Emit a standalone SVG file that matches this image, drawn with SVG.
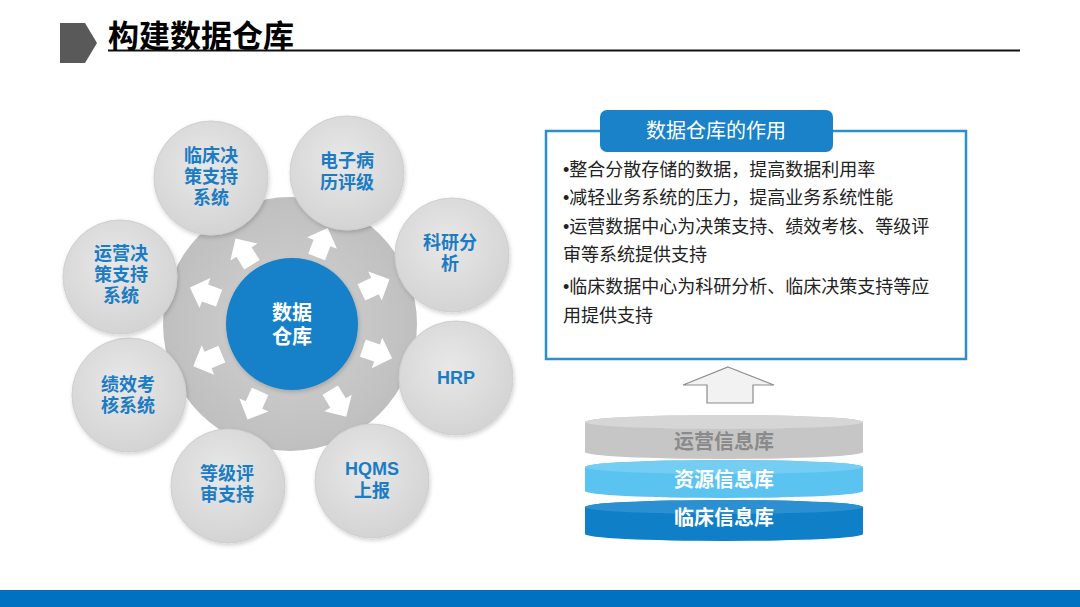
<svg xmlns="http://www.w3.org/2000/svg" width="1080" height="607" viewBox="0 0 1080 607">
<style>
.cjk{font-family:"Noto Sans CJK SC","Liberation Sans",sans-serif}
.hub-t{font-family:"Liberation Sans","Noto Sans CJK SC",sans-serif;font-weight:700;font-size:20px;fill:#fff;text-anchor:middle}
.node-t{font-family:"Liberation Sans","Noto Sans CJK SC",sans-serif;font-weight:700;font-size:18px;fill:#1b7cc4;text-anchor:middle}
.bul{font-family:"Liberation Sans","Noto Sans CJK SC",sans-serif;font-size:18px;fill:#222}
.cyl-t{font-family:"Noto Sans CJK SC","Liberation Sans",sans-serif;font-weight:700;font-size:20px;text-anchor:middle}
.outer{fill:url(#gOuter);stroke:#cfcfcf;stroke-width:1;filter:url(#sh)}
.warr{fill:#ffffff}
</style>
<defs>
<radialGradient id="gOuter" cx="0.45" cy="0.4" r="0.65">
<stop offset="0" stop-color="#e8e8e8"/>
<stop offset="1" stop-color="#d2d2d2"/>
</radialGradient>
<radialGradient id="gRing" cx="0.5" cy="0.5" r="0.5">
<stop offset="0.5" stop-color="#c9c9c9"/>
<stop offset="1" stop-color="#bfbfbf"/>
</radialGradient>
<filter id="sh" x="-20%" y="-20%" width="140%" height="140%">
<feDropShadow dx="1" dy="2" stdDeviation="2" flood-color="#000" flood-opacity="0.18"/>
</filter>
<path id="arr" d="M-15,-9 L0,-9 L0,-16 L16,0 L0,16 L0,9 L-15,9 Z"/>
</defs>

<rect width="1080" height="607" fill="#ffffff"/>

<!-- title -->
<g id="title">
<path d="M60,23 L85,23 L97,43 L85,63 L60,63 Z" fill="#595959"/>
<line x1="108" y1="50.5" x2="1020" y2="50.5" stroke="#111" stroke-width="2"/>
<text x="108" y="47" class="cjk" font-size="31" font-weight="700" fill="#000">构建数据仓库</text>
</g>

<!-- hub -->
<g id="hub">
<circle cx="290" cy="324" r="127" fill="url(#gRing)"/>
<circle cx="292" cy="324" r="66" fill="#1580c8" filter="url(#sh)"/>
<text x="292" y="320" class="hub-t">数据</text>
<text x="292" y="344" class="hub-t">仓库</text>
</g>

<g id="connectors">
<use href="#arr" class="warr" transform="translate(244,252) rotate(-122)"/>
<use href="#arr" class="warr" transform="translate(322,243) rotate(-69)"/>
<use href="#arr" class="warr" transform="translate(375,286) rotate(-25)"/>
<use href="#arr" class="warr" transform="translate(377,353) rotate(19)"/>
<use href="#arr" class="warr" transform="translate(338,403) rotate(59)"/>
<use href="#arr" class="warr" transform="translate(254,405) rotate(114)"/>
<use href="#arr" class="warr" transform="translate(208,360) rotate(157)"/>
<use href="#arr" class="warr" transform="translate(205,293) rotate(-160)"/>
</g>

<g id="node-lcjc">
<circle class="outer" cx="211" cy="178" r="57"/>
<text class="node-t" x="211" y="162">临床决</text>
<text class="node-t" x="211" y="183">策支持</text>
<text class="node-t" x="211" y="204">系统</text>
</g>
<g id="node-dzbl">
<circle class="outer" cx="347" cy="173" r="57"/>
<text class="node-t" x="347" y="167">电子病</text>
<text class="node-t" x="347" y="189">历评级</text>
</g>
<g id="node-kyfx">
<circle class="outer" cx="452" cy="255" r="57"/>
<text class="node-t" x="450" y="249">科研分</text>
<text class="node-t" x="450" y="270">析</text>
</g>
<g id="node-hrp">
<circle class="outer" cx="456" cy="378" r="57"/>
<text class="node-t" x="456" y="384">HRP</text>
</g>
<g id="node-hqms">
<circle class="outer" cx="372" cy="481" r="57"/>
<text class="node-t" x="372" y="475">HQMS</text>
<text class="node-t" x="372" y="497">上报</text>
</g>
<g id="node-djps">
<circle class="outer" cx="228" cy="486" r="57"/>
<text class="node-t" x="227" y="480">等级评</text>
<text class="node-t" x="227" y="501">审支持</text>
</g>
<g id="node-jxkh">
<circle class="outer" cx="129" cy="395" r="57"/>
<text class="node-t" x="128" y="391">绩效考</text>
<text class="node-t" x="128" y="412">核系统</text>
</g>
<g id="node-yyjc">
<circle class="outer" cx="120" cy="277" r="57"/>
<text class="node-t" x="121" y="260">运营决</text>
<text class="node-t" x="121" y="281">策支持</text>
<text class="node-t" x="121" y="302">系统</text>
</g>

<!-- right panel -->
<g id="panel">
<rect x="546" y="131" width="420" height="228" fill="#fff" stroke="#2b8fcf" stroke-width="2.5"/>
<rect x="600" y="110" width="233" height="42" rx="7" fill="#1a82c8"/>
<text x="716" y="138" class="cjk" font-size="20" fill="#fff" text-anchor="middle">数据仓库的作用</text>
<text class="bul" x="563" y="176">•整合分散存储的数据，提高数据利用率</text>
<text class="bul" x="563" y="204">•减轻业务系统的压力，提高业务系统性能</text>
<text class="bul" x="563" y="233">•运营数据中心为决策支持、绩效考核、等级评</text>
<text class="bul" x="563" y="261">审等系统提供支持</text>
<text class="bul" x="563" y="293">•临床数据中心为科研分析、临床决策支持等应</text>
<text class="bul" x="563" y="322">用提供支持</text>
</g>

<g id="up-arrow">
<path d="M728,367 L774,385 L753,385 L753,403 L707,403 L707,385 L683,385 Z" fill="#f2f2f2" stroke="#8c8c8c" stroke-width="1.2"/>
</g>

<!-- stacked databases -->
<g id="db-clinical">
<path d="M585,507 A139,7 0 0 1 863,507 L863,534 A139,7 0 0 1 585,534 Z" fill="#0f7fc8"/>
<ellipse cx="724" cy="507" rx="139" ry="7" fill="#2a90d2"/>
<text class="cyl-t" x="724" y="525" fill="#fff">临床信息库</text>
</g>
<g id="db-resource">
<path d="M585,467 A139,7 0 0 1 863,467 L863,491 A139,7 0 0 1 585,491 Z" fill="#5bc3f0"/>
<ellipse cx="724" cy="467" rx="139" ry="7" fill="#74cdf3"/>
<text class="cyl-t" x="724" y="487" fill="#fff">资源信息库</text>
</g>
<g id="db-operation">
<path d="M585,422 A139,7 0 0 1 863,422 L863,452 A139,7 0 0 1 585,452 Z" fill="#c6c6c6"/>
<ellipse cx="724" cy="422" rx="139" ry="7" fill="#d6d6d6"/>
<text class="cyl-t" x="724" y="449" fill="#8a8a8a">运营信息库</text>
</g>

<rect id="footer" x="0" y="590" width="1080" height="17" fill="#0070c0"/>
</svg>
